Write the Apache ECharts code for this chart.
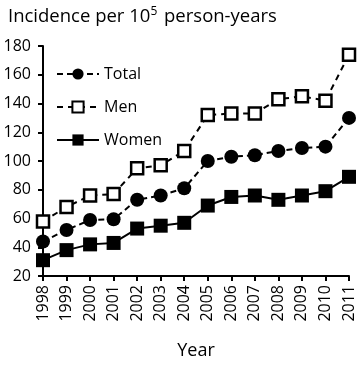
<!DOCTYPE html>
<html>
<head>
<meta charset="utf-8">
<script src="https://cdn.jsdelivr.net/npm/echarts@6/dist/echarts.min.js"></script>
<style>
  html, body { margin: 0; padding: 0; background: #fff; }
  #chart { width: 358px; height: 365px; }
</style>
</head>
<body>
<div id="chart"></div>
<script>
var years = ['1998', '1999', '2000', '2001', '2002', '2003', '2004',
  '2005', '2006', '2007', '2008', '2009', '2010', '2011']
var total = [44, 52, 59, 59.5, 73, 76, 81, 100, 103, 104, 107, 109, 110, 130]
var men = [58, 68, 76, 77, 95, 97, 107, 132, 133, 133, 143, 145, 142, 174]
var women = [31, 38, 42, 43, 53, 55, 57, 69, 75, 76, 73, 76, 79, 89]

var font = 'Open Sans'
var chart = echarts.init(document.getElementById('chart'))

chart.setOption({
  animation: false,
  textStyle: { fontFamily: font, color: '#000' },
  title: {
    text: '{a|Incidence per 10}{s|5}{a| person-years}',
    left: 3,
    top: 1,
    textStyle: {
      fontWeight: 'normal',
      rich: {
        a: { fontFamily: font, fontSize: 18.5, fontWeight: 'normal', color: '#000' },
        s: { fontFamily: font, fontSize: 12, fontWeight: 'normal', color: '#000', verticalAlign: 'top', padding: [0, 2, 9, 0] }
      }
    }
  },
  legend: {
    orient: 'vertical',
    left: 51,
    top: 61,
    itemGap: 17,
    itemWidth: 42,
    itemHeight: 14,
    textStyle: { fontFamily: font, fontSize: 16, color: '#000' },
    data: ['Total', 'Men', 'Women']
  },
  grid: { left: 43, right: 9, top: 46, bottom: 78 },
  xAxis: {
    type: 'category',
    data: years,
    boundaryGap: false,
    name: 'Year',
    nameLocation: 'middle',
    nameGap: 66,
    nameTextStyle: { fontFamily: font, fontSize: 18, color: '#000' },
    axisLine: { lineStyle: { color: '#000', width: 2 } },
    axisTick: { alignWithLabel: true, length: 5, lineStyle: { width: 2 } },
    axisLabel: { rotate: 90, fontFamily: font, fontSize: 16, color: '#000', margin: 9 }
  },
  yAxis: {
    type: 'value',
    min: 20,
    max: 180,
    interval: 20,
    splitLine: { show: false },
    axisLine: { show: true, lineStyle: { color: '#000', width: 2 } },
    axisTick: { show: true, length: 5, lineStyle: { width: 2 } },
    axisLabel: { fontFamily: font, fontSize: 16, color: '#000', margin: 12 }
  },
  series: [
    {
      name: 'Total',
      type: 'line',
      data: total,
      symbol: 'circle',
      symbolSize: 14,
      itemStyle: { color: '#000' },
      lineStyle: { color: '#000', width: 2, type: [6, 4] }
    },
    {
      name: 'Men',
      type: 'line',
      data: men,
      symbol: 'rect',
      symbolSize: 12,
      itemStyle: { color: '#fff', borderColor: '#000', borderWidth: 2.5 },
      lineStyle: { color: '#000', width: 2, type: [6, 5] }
    },
    {
      name: 'Women',
      type: 'line',
      data: women,
      symbol: 'rect',
      symbolSize: 14,
      itemStyle: { color: '#000' },
      lineStyle: { color: '#000', width: 2 }
    }
  ]
})
</script>
</body>
</html>
